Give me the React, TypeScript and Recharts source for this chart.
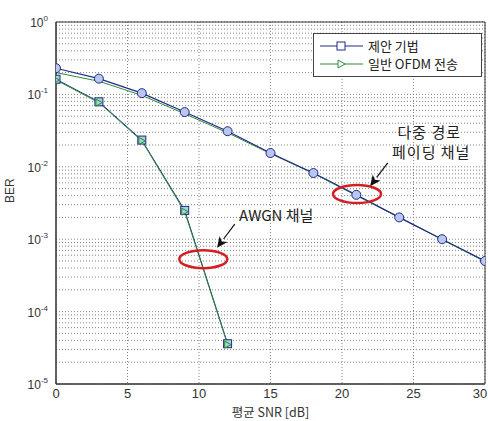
import {
  CartesianGrid,
  Legend,
  Line,
  LineChart,
  ReferenceArea,
  ReferenceDot,
  ReferenceLine,
  XAxis,
  YAxis,
} from "recharts";

// 다중 경로 페이딩 채널 (0 ~ 30 dB, 3 dB 간격)
const snrFading = [0, 3, 6, 9, 12, 15, 18, 21, 24, 27, 30];
const berProposedFading = [0.23, 0.165, 0.104, 0.057, 0.031, 0.0155, 0.0082, 0.0041, 0.002, 0.001, 0.0005];
const berConventionalFading = [0.2, 0.152, 0.097, 0.054, 0.0295, 0.0152, 0.0081, 0.004, 0.002, 0.00099, 0.00049];

// AWGN 채널
const snrAwgn = [0, 3, 6, 9, 12];
const berProposedAwgn = [0.162, 0.079, 0.0234, 0.0025, 3.6e-5];
const berConventionalAwgn = [0.158, 0.077, 0.0228, 0.0024, 3.5e-5];

const xTicks = [0, 5, 10, 15, 20, 25, 30];
const decadeTicks = [1e-5, 1e-4, 1e-3, 1e-2, 1e-1, 1];
const minorMultipliers = [2, 3, 4, 5, 6, 7, 8, 9];

const seriesNames = ["제안 기법", "일반 OFDM 전송"];

const BLUE = "#1f2a8a";
const GREEN = "#2e8a3a";
const RED = "#d41e24";
const FONT = "'Liberation Sans', 'Noto Sans CJK KR', sans-serif";
const KFONT = "'Noto Sans CJK KR', 'Liberation Sans', sans-serif";

const yTicks = [
  ...decadeTicks,
  ...decadeTicks.slice(0, -1).flatMap((d) => minorMultipliers.map((m) => m * d)),
].sort((a, b) => a - b);

const toRows = (snr: number[], ber: number[]) => snr.map((s, i) => ({ snr: s, ber: ber[i] }));

const fadingProposed = toRows(snrFading, berProposedFading);
const fadingConventional = toRows(snrFading, berConventionalFading);
const awgnProposed = toRows(snrAwgn, berProposedAwgn);
const awgnConventional = toRows(snrAwgn, berConventionalAwgn);

function YTick(props: any) {
  const { x, y, payload } = props;
  const exp = Math.round(Math.log10(payload.value));
  if (Math.abs(Math.log10(payload.value) - exp) > 1e-6) return null;
  return (
    <text x={x} y={y + 5} textAnchor="end" fill="#333" fontSize={12} fontFamily={FONT}>
      10
      <tspan dy={-6} fontSize={8}>
        {exp}
      </tspan>
    </text>
  );
}

function XTick(props: any) {
  const { x, y, payload } = props;
  return (
    <text x={x} y={y + 8} textAnchor="middle" fill="#333" fontSize={13} fontFamily={FONT}>
      {payload.value}
    </text>
  );
}

function SquareDot(props: any) {
  const { cx, cy } = props;
  if (cx == null || cy == null) return null;
  return <rect x={cx - 4} y={cy - 4} width={8} height={8} fill="#9fd6d0" stroke={BLUE} strokeWidth={1} />;
}

function TriangleDot(props: any) {
  const { cx, cy } = props;
  if (cx == null || cy == null) return null;
  return <path d={`M${cx - 3},${cy - 3.5} L${cx + 3.5},${cy} L${cx - 3},${cy + 3.5} Z`} fill="none" stroke={GREEN} strokeWidth={1} />;
}

function Arrow(props: any) {
  const { x1, y1, x2, y2 } = props;
  const dx = x2 - x1;
  const dy = y2 - y1;
  const len = Math.hypot(dx, dy) || 1;
  const ux = dx / len;
  const uy = dy / len;
  const hl = 11;
  const hw = 5;
  const bx = x2 - ux * hl;
  const by = y2 - uy * hl;
  return (
    <g>
      <line x1={x1} y1={y1} x2={bx} y2={by} stroke="#111" strokeWidth={1.2} />
      <path
        d={`M${x2},${y2} L${bx - uy * hw},${by + ux * hw} L${bx + ux * 3},${by + uy * 3} L${bx + uy * hw},${by - ux * hw} Z`}
        fill="#111"
      />
    </g>
  );
}

function LegendBox() {
  const rows = [
    { name: seriesNames[0], color: BLUE, marker: "square" },
    { name: seriesNames[1], color: GREEN, marker: "triangle" },
  ];
  return (
    <svg width={169} height={44} style={{ display: "block" }}>
      <rect x={0.5} y={0.5} width={168} height={43} fill="#fff" stroke="#444" />
      {rows.map((r, i) => {
        const cy = 13 + i * 18;
        return (
          <g key={r.name}>
            <line x1={7} y1={cy} x2={50} y2={cy} stroke={r.color} strokeWidth={1} />
            {r.marker === "square" ? (
              <rect x={24} y={cy - 4} width={8} height={8} fill="#fff" stroke={r.color} />
            ) : (
              <path d={`M${25},${cy - 4} L${32},${cy} L${25},${cy + 4} Z`} fill="#fff" stroke={r.color} />
            )}
            <text x={55} y={cy + 5} fontSize={13} fill="#222" fontFamily={KFONT}>
              {r.name}
            </text>
          </g>
        );
      })}
    </svg>
  );
}

export default function App() {
  return (
    <div style={{ position: "absolute", left: 0, top: 0, width: 488, height: 421, background: "#fff" }}>
      <LineChart width={488} height={421} margin={{ top: 22, right: 3, bottom: 0, left: 0 }}>
        <CartesianGrid stroke="#666" strokeDasharray="1 2" strokeWidth={0.8} />
        <XAxis
          dataKey="snr"
          type="number"
          domain={[0, 30]}
          ticks={xTicks}
          allowDataOverflow
          height={37}
          tickLine={false}
          axisLine={{ stroke: "#333" }}
          tick={<XTick />}
          tickMargin={0}
          label={{ value: "평균 SNR [dB]", position: "insideBottom", offset: 4, fontSize: 12.5, fill: "#333", fontFamily: KFONT }}
        />
        <YAxis
          scale="log"
          domain={[1e-5, 1]}
          ticks={yTicks}
          allowDataOverflow
          width={56}
          tickLine={false}
          axisLine={{ stroke: "#333" }}
          tick={<YTick />}
          tickMargin={2}
          interval={0}
          label={{ value: "BER", angle: -90, position: "insideLeft", offset: 10, fontSize: 12, fill: "#333", fontFamily: FONT }}
        />
        <ReferenceArea x1={0} x2={30} y1={1e-5} y2={1} fill="none" stroke="#333" strokeWidth={1} ifOverflow="visible" />

        <Line data={fadingConventional} dataKey="ber" stroke={GREEN} strokeWidth={1} dot={false} isAnimationActive={false} name={seriesNames[1]} />
        <Line
          data={fadingProposed}
          dataKey="ber"
          stroke={BLUE}
          strokeWidth={1.2}
          dot={{ r: 4.5, stroke: BLUE, strokeWidth: 1, fill: "#b9c6ee" }}
          isAnimationActive={false}
          name={seriesNames[0]}
        />
        <Line data={awgnProposed} dataKey="ber" stroke={BLUE} strokeWidth={1} dot={<SquareDot />} isAnimationActive={false} />
        <Line data={awgnConventional} dataKey="ber" stroke={GREEN} strokeWidth={1} dot={<TriangleDot />} isAnimationActive={false} />

        <ReferenceDot
          x={21.05}
          y={0.0042}
          ifOverflow="visible"
          shape={(p: any) => <ellipse cx={p.cx} cy={p.cy} rx={24} ry={9} fill="none" stroke={RED} strokeWidth={2.5} />}
        />
        <ReferenceDot
          x={10.3}
          y={0.00053}
          ifOverflow="visible"
          shape={(p: any) => <ellipse cx={p.cx} cy={p.cy} rx={24} ry={9} fill="none" stroke={RED} strokeWidth={2.5} />}
        />
        <ReferenceLine segment={[{ x: 23.2, y: 0.0113 }, { x: 21.96, y: 0.0054 }]} ifOverflow="visible" shape={<Arrow />} />
        <ReferenceLine segment={[{ x: 12.5, y: 0.00162 }, { x: 11.26, y: 0.00076 }]} ifOverflow="visible" shape={<Arrow />} />
        <ReferenceDot
          x={15.4}
          y={0.0021}
          ifOverflow="visible"
          shape={(p: any) => (
            <text x={p.cx} y={p.cy + 5} textAnchor="middle" fontSize={15} fill="#222" fontFamily={KFONT}>
              AWGN 채널
            </text>
          )}
        />
        <ReferenceDot
          x={26.1}
          y={0.029}
          ifOverflow="visible"
          shape={(p: any) => (
            <text x={p.cx} y={p.cy + 5} textAnchor="middle" fontSize={15} fill="#222" fontFamily={KFONT} letterSpacing={1}>
              <tspan x={p.cx}>다중 경로</tspan>
              <tspan x={p.cx + 2} dy={20}>
                페이딩 채널
              </tspan>
            </text>
          )}
        />

        <Legend
          layout="vertical"
          align="center"
          verticalAlign="middle"
          content={() => <LegendBox />}
          wrapperStyle={{ left: 313, top: 33, width: 169 }}
        />
      </LineChart>
    </div>
  );
}
